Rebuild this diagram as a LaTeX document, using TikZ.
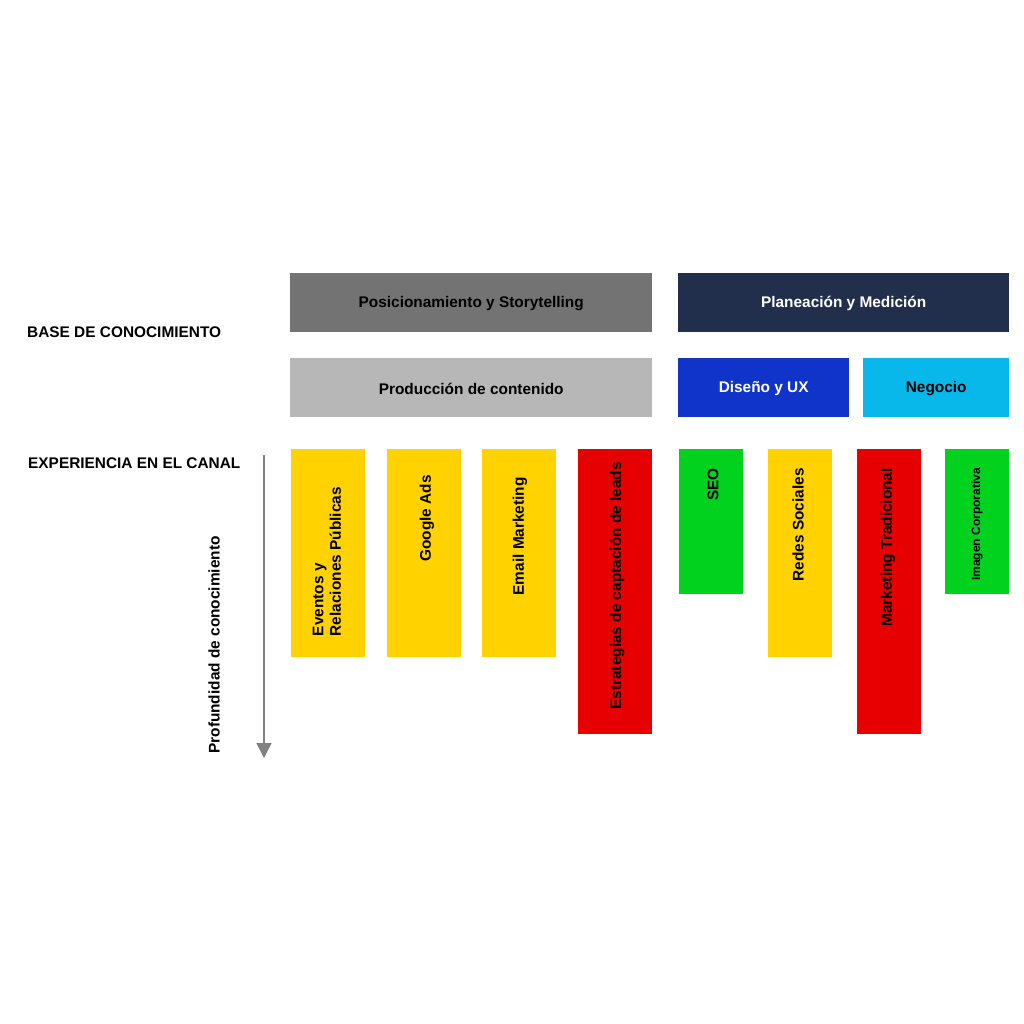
\documentclass[tikz,border=0pt]{standalone}
\usepackage{fontspec}
\setmainfont{Liberation Sans}
\usetikzlibrary{arrows.meta}

\definecolor{grisosc}{HTML}{737373}
\definecolor{grisclaro}{HTML}{B7B7B7}
\definecolor{marino}{HTML}{222F4C}
\definecolor{azul}{HTML}{1034C9}
\definecolor{celeste}{HTML}{08B8EA}
\definecolor{amarillo}{HTML}{FFD200}
\definecolor{rojo}{HTML}{E60000}
\definecolor{verde}{HTML}{00D21E}

\tikzset{
  caja/.style={rectangle, inner sep=0pt, anchor=north west},
  titulo/.style={font=\fontsize{15.4}{17}\selectfont\bfseries},
  vertical/.style={font=\fontsize{15.4}{17.5}\selectfont\bfseries, rotate=90, anchor=east, align=left, inner sep=0pt}
}

\begin{document}
\begin{tikzpicture}[x=1pt,y=-1pt]
  % Fondo
  \fill[white] (0,0) rectangle (1024,1024);
  \useasboundingbox (0,0) rectangle (1024,1024);
  % Etiquetas de la izquierda
  \node[titulo, anchor=west, inner sep=0pt] (base) at (27,332) {BASE DE CONOCIMIENTO};
  \node[titulo, anchor=west, inner sep=0pt] (exp) at (28,463) {EXPERIENCIA EN EL CANAL};
  % Base de conocimiento
  \node[caja, fill=grisosc, minimum width=362, minimum height=59] (pos) at (290,273) {};
  \node[titulo] at ([yshift=-1]pos.center) {Posicionamiento y Storytelling};
  \node[caja, fill=marino, minimum width=331, minimum height=59] (plan) at (678,273) {};
  \node[titulo, white] at ([yshift=-1]plan.center) {Planeación y Medición};
  \node[caja, fill=grisclaro, minimum width=362, minimum height=59] (prod) at (290,358) {};
  \node[titulo] at ([yshift=-1]prod.center) {Producción de contenido};
  \node[caja, fill=azul, minimum width=171, minimum height=59] (dis) at (678,358) {};
  \node[titulo, white] at ([yshift=-1]dis.center) {Diseño y UX};
  \node[caja, fill=celeste, minimum width=146, minimum height=59] (neg) at (863,358) {};
  \node[titulo] at ([yshift=-1]neg.center) {Negocio};
  % Canales
  \node[caja, fill=amarillo, minimum width=74, minimum height=208] (eve) at (291,449) {};
  \node[caja, fill=amarillo, minimum width=74, minimum height=208] (goo) at (387,449) {};
  \node[caja, fill=amarillo, minimum width=74, minimum height=208] (ema) at (482,449) {};
  \node[caja, fill=rojo, minimum width=74, minimum height=285] (est) at (578,449) {};
  \node[caja, fill=verde, minimum width=64, minimum height=145] (seo) at (679,449) {};
  \node[caja, fill=amarillo, minimum width=64, minimum height=208] (red) at (768,449) {};
  \node[caja, fill=rojo, minimum width=64, minimum height=285] (mkt) at (857,449) {};
  \node[caja, fill=verde, minimum width=64, minimum height=145] (ima) at (945,449) {};
  % Textos de los canales
  \node[vertical] at (327,487) {Eventos y\\Relaciones Públicas};
  \node[vertical] at (427,475) {Google Ads};
  \node[vertical] at (520,477) {Email Marketing};
  \node[vertical] at (617,462) {Estrategias de captación de leads};
  \node[vertical] at (713,468) {SEO};
  \node[vertical] at (798,468) {Redes Sociales};
  \node[vertical] at (888,468) {Marketing Tradicional};
  \node[vertical, font=\fontsize{12}{14}\selectfont\bfseries] at (977,468) {Imagen Corporativa};
  % Profundidad
  \coordinate (ini) at (264,455);
  \coordinate (fin) at (264,758);
  \draw[grisosc!90, line width=1.5pt, -{Triangle[width=15pt,length=15pt]}] (ini) -- (fin);
  \node[vertical, anchor=center] (prof) at (214,645) {Profundidad de conocimiento};
\end{tikzpicture}
\end{document}
